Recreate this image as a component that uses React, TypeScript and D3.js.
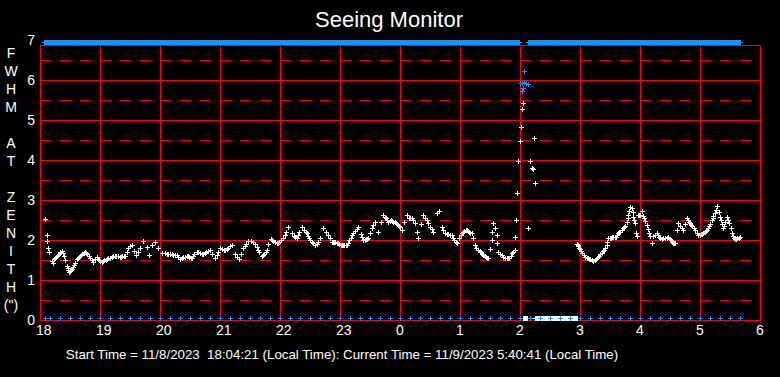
import React from 'react';
import * as d3 from 'd3';

const W = 780;
const H = 377;

const xTickLabels = ['18', '19', '20', '21', '22', '23', '0', '1', '2', '3', '4', '5', '6'];
const yTickValues = [0, 1, 2, 3, 4, 5, 6, 7];
const yAxisChars = ['F', 'W', 'H', 'M', '', 'A', 'T', '', 'Z', 'E', 'N', 'I', 'T', 'H', '(")'];
const titleText = 'Seeing Monitor';
const footerText = 'Start Time = 11/8/2023  18:04:21 (Local Time): Current Time = 11/9/2023 5:40:41 (Local Time)';

// minutes since 18:00, FWHM (arcsec)
const eveningSeries: [number, number][] = [
  [5, 2.52], [6.7, 2.12], [7.3, 1.97], [8.3, 1.8], [9.3, 1.7], [12, 1.48], [13, 1.42], [15, 1.55], [17, 1.6], [19, 1.65],
  [21.7, 1.73], [23, 1.68], [25, 1.5], [26.7, 1.35], [28, 1.25], [29.3, 1.21], [31, 1.25], [33.3, 1.33], [35, 1.42], [36.7, 1.52],
  [38, 1.55], [40, 1.6], [42, 1.65], [45, 1.7], [47, 1.65], [50, 1.55], [53.3, 1.46], [56.7, 1.57], [59, 1.5], [61.7, 1.46],
  [64, 1.5], [66.7, 1.52], [70, 1.56], [73.3, 1.6], [76, 1.6], [80, 1.57], [82, 1.6], [85, 1.6], [88.3, 1.8], [91.7, 1.87],
  [94, 1.72], [96, 1.62], [98, 1.7], [100, 1.8], [103.3, 1.98], [106.7, 1.83], [109.3, 1.62], [111.7, 1.87], [115, 1.96], [118.3, 1.8],
  [121.7, 1.67], [125, 1.68], [128, 1.64], [130, 1.65], [133, 1.63], [136.7, 1.62], [140, 1.52], [143, 1.57], [146.7, 1.6], [149, 1.58],
  [151.7, 1.55], [154, 1.64], [156.7, 1.71], [160, 1.68], [163.3, 1.65], [166, 1.7], [170, 1.75], [172, 1.65], [175, 1.55], [178, 1.7],
  [180, 1.8], [182, 1.78], [185, 1.75], [188, 1.8], [191.7, 1.87], [195, 1.65], [199.3, 1.52], [201, 1.65], [203.3, 1.8], [206, 1.9],
  [208.3, 1.98], [212.7, 1.96], [216.7, 1.83], [219, 1.7], [221.7, 1.6], [224, 1.65], [226.7, 1.75], [228, 1.9], [230.7, 2.02], [233, 1.98],
  [236.7, 1.92], [239, 1.95], [243, 2.05], [246, 2.2], [248.3, 2.33], [251.7, 2.17], [254, 2.1], [256.7, 2.05], [259, 2.2], [261.7, 2.33],
  [264, 2.25], [266.7, 2.17], [269, 2.05], [271.7, 1.96], [275, 1.87], [278, 1.95], [280, 2.05], [283.3, 2.3], [286, 2.2], [288.3, 2.12],
  [291.7, 1.96], [294, 1.95], [296.7, 1.93], [299, 1.9], [301.7, 1.87], [304, 1.88], [306.7, 1.87], [309, 2.0], [311.7, 2.12], [315, 2.22],
  [318.3, 2.33], [321, 2.15], [323.3, 2.0], [326, 2.02], [328.3, 2.05], [331.7, 2.3], [335, 2.46], [338.3, 2.21], [341, 2.45], [343.3, 2.62],
  [346, 2.55], [348.3, 2.46], [351, 2.5], [353.3, 2.46], [356, 2.42], [358, 2.38], [360, 2.33], [361.7, 2.25], [364, 2.45], [366.7, 2.62],
  [369, 2.55], [371.7, 2.54], [375, 2.42], [376.7, 2.21], [378.3, 2.05], [381, 2.4], [383.3, 2.62], [386.7, 2.5], [390, 2.33], [393.3, 2.21],
  [396.7, 2.67], [399.3, 2.73], [401.7, 2.33], [405, 2.17], [408, 2.14], [411.7, 2.12], [414, 2.0], [416.7, 1.92], [419, 2.05], [421.7, 2.17],
  [424, 2.22], [426.7, 2.25], [429, 2.2], [431.7, 2.17], [435, 1.87], [438.3, 1.75], [441, 1.7], [443.3, 1.62], [446, 1.58], [448.3, 1.55],
];

// further readings where the evening band is dense
const eveningDense: [number, number][] = [
  [14, 1.52], [16, 1.58], [18, 1.63], [20, 1.7], [24, 1.6], [27.5, 1.3], [30, 1.22], [32, 1.28], [34, 1.38], [37.5, 1.54],
  [39, 1.58], [41, 1.62], [43.5, 1.68], [46, 1.68], [48.5, 1.6], [51.5, 1.5], [55, 1.52], [58, 1.53], [60, 1.48], [63, 1.48],
  [65.5, 1.51], [68, 1.54], [71.5, 1.58], [75, 1.6], [78, 1.59], [81, 1.58], [83.5, 1.6], [86.5, 1.7], [90, 1.84], [126.5, 1.66],
  [131.5, 1.64], [135, 1.62], [138, 1.58], [141.5, 1.54], [145, 1.58], [148, 1.59], [150.5, 1.56], [153, 1.6], [158, 1.7], [161.5, 1.66],
  [165, 1.68], [168, 1.72], [176.5, 1.62], [183.5, 1.76], [186.5, 1.78], [190, 1.84], [197, 1.58], [205, 1.85], [210.5, 1.97], [214.5, 1.9],
  [218, 1.76], [223, 1.62], [225.5, 1.7], [232, 2.0], [235, 1.95], [238, 1.93], [241, 2.0], [244.5, 2.12], [255, 2.08], [257.8, 2.12],
  [265.5, 2.2], [268, 2.1], [270, 2.0], [273, 1.92], [276.5, 1.9], [289.5, 2.05], [293, 1.95], [295.5, 1.94], [298, 1.92], [300.5, 1.88],
  [303, 1.87], [305.5, 1.88], [308, 1.93], [310.5, 2.06], [313, 2.17], [316.5, 2.28], [322, 2.08], [325, 2.0], [327, 2.03], [330, 2.18],
  [333, 2.38], [344.5, 2.58], [347, 2.5], [350, 2.48], [352, 2.48], [355, 2.44], [357, 2.4], [359, 2.35], [370, 2.55], [373, 2.5],
  [385, 2.56], [388, 2.42], [392, 2.27], [403, 2.25], [406.5, 2.16], [410, 2.13], [413, 2.06], [415.5, 1.96], [420.5, 2.12], [423, 2.2],
  [425.5, 2.24], [428, 2.23], [430.5, 2.18], [433, 2.05], [436.5, 1.8], [440, 1.72], [442, 1.66], [444.5, 1.6], [447, 1.56], [460, 1.66],
  [465, 1.56], [468, 1.54], [470.5, 1.6],
];

const spikeSeries: [number, number][] = [
  [450, 1.77], [451.7, 2.0], [451.7, 2.2], [453.3, 2.42], [455, 2.3], [456.7, 2.12], [457.3, 1.92], [458.3, 1.71], [461.7, 1.62], [463.3, 1.58],
  [466.7, 1.54], [469, 1.55], [471.7, 1.67], [473, 1.7], [475, 1.75], [475, 2.08], [476, 2.5], [477.3, 3.18], [478.3, 3.97], [480.3, 4.47],
  [481.3, 4.82], [482.3, 5.27], [483.3, 5.42], [488.3, 2.29], [490.3, 3.97], [492.3, 3.79], [493, 3.78], [494.3, 4.54], [495.3, 3.42],
];

const spikeBlueSeries: [number, number][] = [
  [484.3, 6.22], [480, 5.93], [482, 5.93], [484, 5.95], [486, 5.93], [488, 5.9], [481.7, 5.72], [483.3, 5.8],
];

const morningSeries: [number, number][] = [
  [536.7, 1.9], [538, 1.85], [540, 1.78], [542, 1.68], [545, 1.58], [548, 1.55], [550, 1.52], [553.3, 1.48], [556, 1.52], [558, 1.58],
  [560, 1.64], [563, 1.72], [565, 1.8], [566.7, 1.87], [568.3, 2.04], [571, 2.06], [573.3, 2.08], [576, 2.07], [578.3, 2.17], [580, 2.21],
  [583.3, 2.29], [585, 2.35], [586.7, 2.46], [588.3, 2.62], [590, 2.82], [591.5, 2.8], [593.3, 2.58], [595, 2.42], [596, 2.17], [596.7, 2.1],
  [598.3, 2.62], [600, 2.62], [601.7, 2.73], [603, 2.6], [605, 2.48], [608.3, 2.27], [610, 2.1], [611.7, 1.92], [613, 2.1], [616.7, 2.17],
  [619, 2.08], [621.7, 2.03], [625, 2.05], [628.3, 2.07], [631, 2.0], [633.3, 1.92], [635, 1.92], [636.7, 2.25], [638.3, 2.42], [640, 2.35],
  [643.3, 2.25], [646.7, 2.54], [648, 2.5], [650, 2.42], [652, 2.35], [655, 2.25], [658.3, 2.12], [661, 2.15], [663.3, 2.17], [666, 2.22],
  [668.3, 2.29], [670, 2.4], [671.7, 2.5], [673, 2.6], [675, 2.68], [677.3, 2.85], [679, 2.7], [680, 2.58], [682, 2.4], [683.3, 2.29],
  [685, 2.45], [686.7, 2.58], [689.3, 2.42], [691.7, 2.17], [693, 2.1], [695, 2.02], [697, 2.05], [700, 2.07],
];

const morningDense: [number, number][] = [
  [537.5, 1.88], [539, 1.8], [541, 1.72], [543.5, 1.62], [546.5, 1.56], [549, 1.53], [551.5, 1.5], [554.5, 1.5], [557, 1.55], [559, 1.6],
  [561.5, 1.68], [564, 1.76], [567.5, 1.95], [569.5, 2.05], [572, 2.07], [574.5, 2.08], [577, 2.12], [579, 2.19], [581.5, 2.25], [584, 2.32],
  [587.5, 2.54], [589, 2.72], [592.5, 2.7], [594, 2.5], [599, 2.62], [604, 2.55], [606.5, 2.38], [609, 2.18], [614.5, 2.12], [618, 2.12],
  [620, 2.05], [623, 2.04], [626.5, 2.06], [630, 2.03], [632, 1.96], [634, 1.92], [641.5, 2.3], [645, 2.4], [649, 2.46], [651, 2.38],
  [653.5, 2.3], [656.5, 2.18], [659.5, 2.13], [662, 2.16], [664.5, 2.19], [667, 2.25], [669, 2.34], [672.5, 2.55], [676, 2.76], [681, 2.5],
  [684, 2.36], [688, 2.5], [690.5, 2.3], [694, 2.05], [696, 2.03], [698.5, 2.06],
];

// sample-time ranges (minutes since 18:00) of the marker rows
const topRowRanges: [number, number][] = [[4, 479], [488, 700]];
const bottomWhiteRanges: [number, number][] = [[483, 487], [495, 537]];
const bottomBlueTimes = [5, ...d3.range(10, 701, 10)];

const FONT = '"Liberation Sans", Arial, sans-serif';
const RED = '#ff0000';
const BLUE = '#1e8fff';

export default function App() {
  const x = d3.scaleLinear().domain([0, 720]).range([40, 760]);
  const y = d3.scaleLinear().domain([0, 7]).range([320, 40]);
  const yTop = 45;

  const px = (v: number) => Math.round(v) + 0.5;
  const crossPath = (cx0: number, cy0: number) => {
    const cx = px(cx0);
    const cy = px(cy0);
    return `M${cx - 2.5},${cy}H${cx + 2.5}M${cx},${cy - 2.5}V${cy + 2.5}`;
  };
  const crosses = (pts: [number, number][]) => pts.map(([t, v]) => crossPath(x(t), y(v))).join('');

  const topPts: [number, number][] = topRowRanges.flatMap(([a, b]) =>
    d3.range(a, b + 1).map((t) => [x(t), 42] as [number, number])
  );
  const bottomWhitePts: [number, number][] = bottomWhiteRanges.flatMap(([a, b]) =>
    d3.range(a, b + 1).map((t) => [x(t), 318] as [number, number])
  );
  const bottomBluePts: [number, number][] = bottomBlueTimes.map((t) => [x(t), 318] as [number, number]);
  const pxCrosses = (pts: [number, number][]) => pts.map(([a, b]) => crossPath(a, b)).join('');

  const hourTicks = xTickLabels.map((_, i) => i * 60);
  const halfValues = d3.range(0.5, 7, 1);
  const intValues = [1, 2, 3, 4, 5, 6];

  return (
    <div style={{ position: 'fixed', left: 0, top: 0, width: W, height: H, background: '#000' }}>
      <svg width={W} height={H} style={{ display: 'block', background: '#000' }}>
        <rect x={0} y={0} width={W} height={H} fill="#000" />
        <text x={389} y={27} fill="#fff" fontFamily={FONT} fontSize={22} textAnchor="middle">
          {titleText}
        </text>

        {/* grid */}
        <g shapeRendering="crispEdges" stroke={RED} strokeWidth={1} fill="none">
          {halfValues.map((v) => (
            <line key={'h' + v} x1={x(0)} x2={x(720)} y1={px(y(v))} y2={px(y(v))} strokeDasharray="11,9" />
          ))}
          {intValues.map((v) => (
            <line key={'i' + v} x1={x(0)} x2={x(720)} y1={px(y(v))} y2={px(y(v))} />
          ))}
          {hourTicks.map((t) => (
            <line key={'v' + t} x1={px(x(t))} x2={px(x(t))} y1={yTop} y2={px(y(0))} />
          ))}
          <line x1={x(0)} x2={x(720) + 1} y1={yTop + 0.5} y2={yTop + 0.5} />
          <line x1={x(0)} x2={x(720) + 1} y1={px(y(0))} y2={px(y(0))} />
        </g>

        {/* marker rows */}
        <path d={pxCrosses(topPts)} stroke={BLUE} strokeWidth={1} fill="none" shapeRendering="crispEdges" />
        <path d={pxCrosses(bottomWhitePts)} stroke="#fff" strokeWidth={1} fill="none" shapeRendering="crispEdges" />
        <path d={pxCrosses(bottomBluePts)} stroke={BLUE} strokeWidth={1} fill="none" shapeRendering="crispEdges" />

        {/* data */}
        <path
          d={
            crosses(eveningSeries) +
            crosses(eveningDense) +
            crosses(spikeSeries) +
            crosses(morningSeries) +
            crosses(morningDense)
          }
          stroke="#fff"
          strokeWidth={1}
          fill="none"
          shapeRendering="crispEdges"
        />
        <path d={crosses(spikeBlueSeries)} stroke={BLUE} strokeWidth={1} fill="none" shapeRendering="crispEdges" />

        {/* y tick labels */}
        {yTickValues.map((v) => (
          <text key={'yl' + v} x={35} y={y(v) + 5} fill="#fff" fontFamily={FONT} fontSize={14} textAnchor="end">
            {v}
          </text>
        ))}
        {/* x tick labels */}
        {xTickLabels.map((lab, i) => (
          <text key={'xl' + i} x={x(i * 60) - 4} y={335} fill="#fff" fontFamily={FONT} fontSize={14} textAnchor="start">
            {lab}
          </text>
        ))}
        {/* vertical axis title */}
        {yAxisChars.map((c, i) => (
          <text key={'ya' + i} x={11} y={58 + i * 18} fill="#fff" fontFamily={FONT} fontSize={14} textAnchor="middle">
            {c}
          </text>
        ))}

        <text x={342} y={359} fill="#fff" fontFamily={FONT} fontSize={13.3} textAnchor="middle" style={{ whiteSpace: 'pre' }}>
          {footerText}
        </text>
      </svg>
    </div>
  );
}
